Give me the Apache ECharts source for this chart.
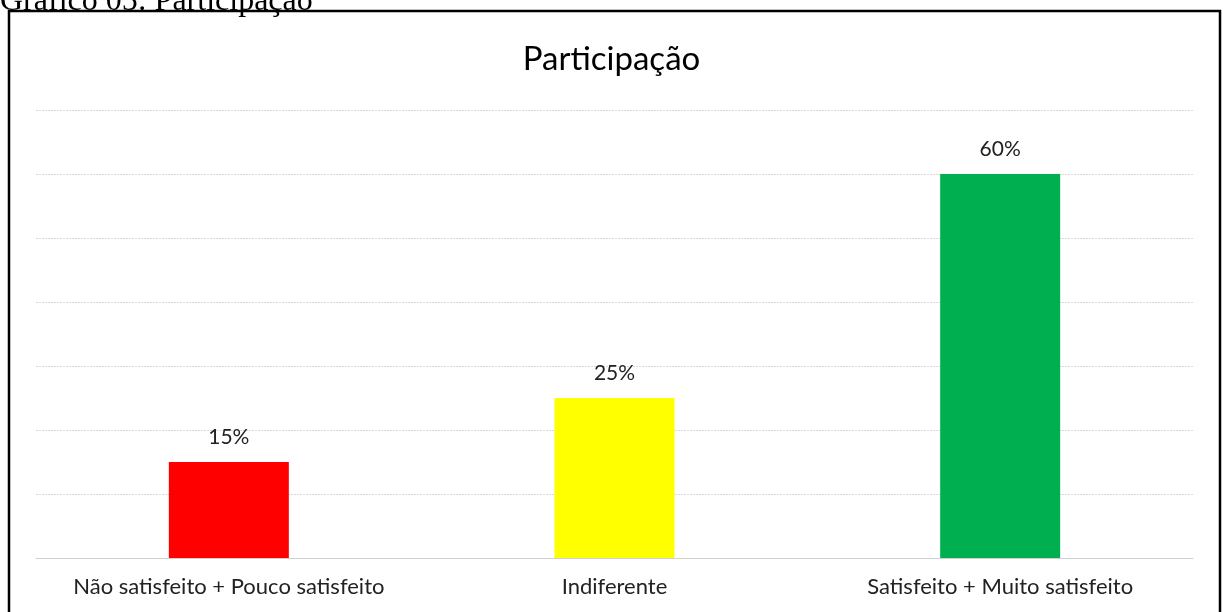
<!DOCTYPE html>
<html>
<head>
<meta charset="utf-8">
<script src="https://cdn.jsdelivr.net/npm/echarts@6/dist/echarts.min.js"></script>
<style>
html,body{margin:0;padding:0;background:#fff;}
#chart{width:1223px;height:612px;}
</style>
</head>
<body>
<div id="chart"></div>
<script>
const categories = ['Não satisfeito + Pouco satisfeito', 'Indiferente', 'Satisfeito + Muito satisfeito'];
const values = [15, 25, 60];
const barColors = ['#ff0000', '#ffff00', '#00b050'];
const chartTitle = 'Participação';
const caption = 'Gráfico 05: Participação';

const chart = echarts.init(document.getElementById('chart'), null, {renderer: 'canvas'});
const font = 'Lato, "Open Sans", sans-serif';
chart.setOption({
  animation: false,
  backgroundColor: '#fff',
  title: {
    text: chartTitle,
    left: 'center',
    top: 38,
    textStyle: {fontFamily: font, fontSize: 33, fontWeight: 'normal', color: '#000'}
  },
  graphic: [
    {type: 'rect', shape: {x: 9, y: 11, width: 1211, height: 620}, style: {fill: 'none', stroke: '#000', lineWidth: 2.5}, z: 100},
    {type: 'text', left: 0, top: -14, style: {text: caption, font: '32px "Liberation Serif", serif', fill: '#000'}, z: 100}
  ],
  grid: {left: 36, right: 30, top: 110, bottom: 54, containLabel: false},
  xAxis: {
    type: 'category',
    data: categories,
    axisLine: {lineStyle: {color: '#d0d0d0', width: 1}},
    axisTick: {show: false},
    axisLabel: {interval: 0, hideOverlap: false, fontFamily: font, fontSize: 22, color: '#222', margin: 18}
  },
  yAxis: {
    type: 'value',
    min: 0, max: 70, interval: 10,
    axisLabel: {show: false},
    axisLine: {show: false},
    axisTick: {show: false},
    splitLine: {lineStyle: {color: '#d9d9d9', type: [2, 1], width: 1}}
  },
  series: [{
    type: 'bar',
    barWidth: 120,
    data: values.map((v, i) => ({value: v, itemStyle: {color: barColors[i]}})),
    label: {
      show: true, position: 'top', distance: 14,
      formatter: p => p.value + '%',
      fontFamily: font, fontSize: 21, color: '#222'
    }
  }]
});
</script>
</body>
</html>
